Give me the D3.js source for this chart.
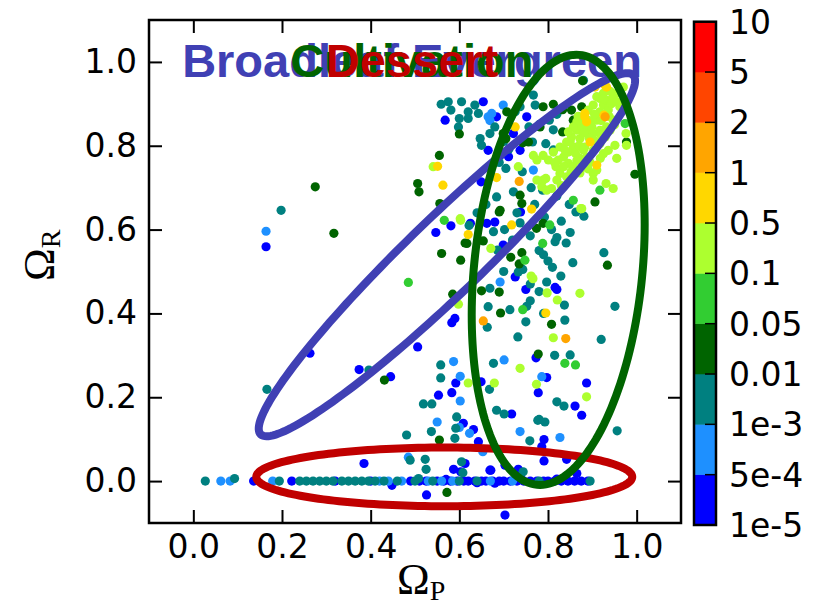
<!DOCTYPE html>
<html><head><meta charset="utf-8">
<script src="https://cdn.jsdelivr.net/npm/d3@7"></script>
<style>body{margin:0;background:#fff}svg{display:block}</style>
</head><body>
<svg id="chart" width="821" height="607"></svg>
<script>
// ---------- data ----------
const xTicks = [0.0, 0.2, 0.4, 0.6, 0.8, 1.0];
const yTicks = [0.0, 0.2, 0.4, 0.6, 0.8, 1.0];
const binLabels = ["1e-5","5e-4","1e-3","0.01","0.05","0.1","0.5","1","2","5","10"];
const binColors = ["#0000ff","#1e90ff","#008080","#006400","#32cd32","#adff2f","#ffd700","#ffa500","#ff4500","#ff0000"];

const ptsBlue = [
 [0.136,0],[0.222,0],[0.32,0],[0.40,0],[0.49,0],[0.51,0],[0.525,0],[0.55,0],[0.565,0],[0.58,0],[0.595,0],[0.61,0],[0.62,0],[0.635,0],[0.65,0],[0.66,0],[0.675,0],[0.69,0],[0.70,0],[0.715,0],[0.73,0],[0.745,0],[0.76,0],[0.775,0],[0.79,0],[0.80,0],[0.815,0],[0.83,0],[0.845,0],[0.86,0],[0.875,0],[0.89,0],
 [0.448,-0.01],[0.64,-0.004],[0.74,0.004],[0.57,0.004],[0.68,-0.005],[0.82,0.005],
 [0.385,0.042],[0.526,-0.033],[0.587,0.028],[0.609,0.138],[0.632,0.123],[0.643,0.094],[0.671,0.026],[0.703,-0.081],[0.791,0.099],[0.786,0.082],[0.791,0.048],[0.842,0.052],[0.733,0.028],[0.865,0.018],[0.703,0.038],[0.718,0.160],[0.861,0.179],[0.876,0.157],[0.613,0.042],[0.603,0.022],[0.669,0.026],
 [0.164,0.559],[0.263,0.305],[0.374,0.266],[0.445,0.249],[0.506,0.320],[0.590,0.388],[0.583,0.378],[0.592,0.234],[0.553,0.205],[0.583,0.211],[0.649,0.237],[0.773,0.294],[0.797,0.247],[0.778,0.211],[0.887,0.234],[0.726,0.487],[0.750,0.457],[0.816,0.462],[0.820,0.457],[0.699,0.563],
 [0.568,0.861],[0.654,0.905],[0.684,0.869],[0.752,0.869],[0.722,0.829],[0.737,0.789],[0.665,0.789],[0.711,0.774],[0.692,0.777],[0.649,0.714],[0.547,0.593],[0.581,0.609],[0.738,0.642],[0.662,0.615],[0.680,0.618],[0.625,0.615]
];
const ptsDodger = [
 [0.062,0],[0.083,0],[0.179,0],[0.42,0],[0.44,0],[0.47,0],[0.53,0],[0.56,0],[0.585,0],[0.67,0],[0.72,0],
 [0.485,0.057],[0.550,0.141],[0.600,0.128],[0.623,0.114],[0.653,0.070],[0.737,0.118],[0.827,0.104],[0.602,0.191],
 [0.164,0.596],[0.665,0.869],[0.673,0.877],[0.699,0.897],[0.669,0.860],[0.767,0.742],[0.692,0.475],[0.587,0.285],[0.602,0.250],[0.701,0.289],[0.786,0.249]
];
const ptsTeal = [
 [0.027,0],[0.194,0],[0.24,0],[0.255,0],[0.27,0],[0.285,0],[0.30,0],[0.315,0],[0.335,0],[0.35,0],[0.365,0],[0.38,0],[0.395,0],[0.41,0],[0.43,0],[0.46,0],[0.50,0],[0.54,0],[0.60,0],[0.64,0],[0.78,0],[0.895,0],[0.093,0.006],
 [0.481,0.110],[0.537,0.118],[0.590,0.102],[0.523,0.052],[0.525,0.028],[0.508,0.006],[0.605,0.046],[0.608,0.020],[0.592,0.126],[0.759,0.096],[0.744,0.022],[0.793,0.141],[0.777,0.145],[0.519,0.184],[0.538,0.184],[0.594,0.153],[0.684,0.169],[0.701,0.160],[0.780,0.147],[0.820,0.189],[0.836,0.179],[0.956,0.120],[0.489,0.050],
 [0.559,0.899],[0.581,0.885],[0.605,0.905],[0.600,0.865],[0.598,0.845],[0.620,0.881],[0.620,0.865],[0.635,0.897],[0.643,0.877],[0.680,0.845],[0.669,0.829],[0.647,0.817],[0.650,0.801],[0.726,0.881],[0.737,0.893],[0.767,0.921],[0.771,0.897],[0.765,0.809],[0.880,0.956],[0.757,0.845],[0.781,0.851],[0.803,0.861],[0.812,0.838],[0.795,0.805],[0.812,0.790],[0.820,0.875],[0.700,0.810],[0.712,0.792],[0.690,0.760],[0.575,0.905],
 [0.705,0.746],[0.684,0.678],[0.788,0.694],[0.198,0.646],[0.677,0.595],[0.737,0.616],[0.686,0.551],[0.733,0.499],[0.743,0.505],[0.816,0.571],[0.820,0.581],[0.841,0.568],[0.856,0.521],[0.850,0.593],[0.863,0.642],[0.881,0.632],[0.926,0.545],[0.951,0.417],[0.920,0.338],[0.669,0.460],[0.797,0.475],[0.829,0.489],[0.837,0.420],[0.665,0.416],[0.714,0.409],[0.752,0.417],[0.663,0.367],[0.838,0.384],[0.732,0.344],[0.558,0.277],[0.558,0.246],[0.668,0.219],[0.677,0.281],[0.850,0.301],[0.396,0.265],[0.166,0.219],
 [0.720,0.575],[0.702,0.600],[0.760,0.585],[0.780,0.550],[0.800,0.525],[0.792,0.630],[0.830,0.620],[0.848,0.660],[0.820,0.680],[0.762,0.700],[0.742,0.738],[0.722,0.690],[0.660,0.660],[0.640,0.640],[0.622,0.610],[0.760,0.470],[0.780,0.452],[0.810,0.510],[0.750,0.380],[0.700,0.500],[0.760,0.430],[0.790,0.540],[0.808,0.600],[0.770,0.660],[0.730,0.640],[0.790,0.400],[0.815,0.300]
];
const ptsDarkGreen = [
 [0.317,0.591],[0.275,0.702],[0.506,0.710],[0.509,0.690],[0.431,0.241],[0.560,0.543],[0.603,0.527],[0.613,0.568],[0.690,0.642],[0.774,0.603],[0.789,0.615],[0.654,0.573],[0.716,0.534],[0.741,0.545],[0.735,0.518],[0.906,0.666],[0.934,0.515],[0.650,0.454],[0.690,0.451],[0.693,0.401],[0.808,0.374],[0.585,0.446],[0.778,0.303],[0.555,0.098],[0.572,-0.027],[0.996,0.732],[0.977,0.809],[0.555,0.777],[0.556,0.662],[0.737,0.682],[0.741,0.662],[0.692,0.646],[0.617,0.567],[0.600,0.828],[0.707,0.881],[0.789,0.893],[0.812,0.899],[0.833,0.886],[0.743,0.807],[0.756,0.809],[0.833,0.833],[0.878,0.955],[0.853,0.885],[0.857,0.861],[0.876,0.893],[0.782,0.845],[0.699,0.829],[0.705,0.817]
];
const ptsLimeGreen = [
 [0.485,0.474],[0.566,0.622],[0.788,0.567],[0.748,0.527],[0.743,0.409],[0.838,0.281],[0.862,0.277],[0.917,0.694],[0.857,0.670],[0.974,0.853],[0.804,0.611]
];
const ptsGreenYellow = [
 [0.842,0.809],[0.853,0.821],[0.865,0.837],[0.876,0.845],[0.887,0.837],[0.899,0.845],[0.910,0.861],[0.917,0.881],[0.925,0.897],[0.932,0.909],[0.947,0.917],[0.955,0.925],[0.962,0.932],[0.917,0.913],[0.902,0.897],[0.891,0.885],[0.872,0.817],[0.883,0.797],[0.857,0.797],[0.846,0.785],[0.835,0.773],[0.823,0.766],[0.801,0.766],[0.789,0.777],[0.775,0.766],[0.846,0.758],[0.857,0.750],[0.872,0.770],[0.887,0.773],[0.902,0.789],[0.917,0.805],[0.929,0.821],[0.940,0.837],[0.947,0.861],[0.932,0.845],[0.902,0.829],[0.876,0.865],[0.865,0.857],[0.857,0.845],[0.846,0.833],[0.910,0.742],[0.902,0.734],[0.936,0.789],[0.955,0.770],[0.976,0.829],[0.977,0.801],[0.947,0.698],[0.931,0.710],[0.876,0.650],[0.818,0.750],[0.827,0.734],[0.795,0.722],[0.786,0.702],[0.789,0.718],[0.820,0.718],[0.733,0.750],[0.902,0.718],[0.925,0.781],[0.951,0.801],[0.962,0.893],[0.970,0.940],[0.925,0.925],[0.910,0.917],[0.936,0.885],[0.917,0.837],[0.827,0.797],[0.812,0.785],[0.842,0.726],[0.808,0.698],[0.797,0.694],[0.775,0.718],[0.767,0.777],
 [0.862,0.782],[0.870,0.800],[0.893,0.818],[0.905,0.812],[0.880,0.830],[0.893,0.860],[0.905,0.875],[0.920,0.860],[0.938,0.870],[0.943,0.900],[0.925,0.912],[0.940,0.930],[0.955,0.905],[0.868,0.870],[0.850,0.810],[0.838,0.790],[0.815,0.760],[0.835,0.750],[0.865,0.765],[0.895,0.760],[0.918,0.770],[0.890,0.745],[0.872,0.735],[0.852,0.738],[0.830,0.705],[0.880,0.790],[0.920,0.825],[0.950,0.850],
 [0.603,0.622],[0.671,0.555],[0.762,0.489],[0.766,0.483],[0.798,0.449],[0.872,0.448],[0.821,0.432],[0.812,0.342],[0.598,0.422],[0.620,0.234],[0.679,0.234],[0.737,0.269],[0.774,0.231],[0.887,0.201],[0.874,0.650],[0.541,0.750],[0.602,0.626]
];
const ptsGold = [
 [0.883,0.869],[0.887,0.857],[0.926,0.873],[0.932,0.940],[0.906,0.940],[0.895,0.809],[0.910,0.754],[0.551,0.751],[0.563,0.706],[0.684,0.724],[0.763,0.649],[0.718,0.611],[0.620,0.588],[0.726,0.845],[0.795,0.401],[0.929,0.944],[0.883,0.877]
];
const ptsOrange = [
 [0.735,0.715],[0.654,0.382],[0.840,0.340],[0.929,0.869]
];
const pointSeries = [ptsBlue, ptsDodger, ptsTeal, ptsDarkGreen, ptsLimeGreen, ptsGreenYellow, ptsGold, ptsOrange];

const regionNames = ["Broadleaf Evergreen", "Cultivation", "Dessert"];
const regionColors = ["#4040b4", "#006400", "#c00000"];
// ellipses in data units: [cx, cy, semi-axis a, semi-axis b, angle(deg)]
const regionEllipses = [
 [0.572, 0.540, 0.600, 0.088, 45.6],
 [0.823, 0.504, 0.515, 0.190, 84.7],
 [0.566, 0.010, 0.424, 0.070, 0]
];

// ---------- drawing ----------
const svg = d3.select("#chart");
const L = 149, R = 681, T = 20, B = 523;
const x = d3.scaleLinear().domain([-0.1, 1.1]).range([L, R]);
const y = d3.scaleLinear().domain([-0.1, 1.1]).range([B, T]);
const tickFont = "'DejaVu Sans', 'Bitstream Vera Sans', sans-serif";

// points
const allPts = [];
pointSeries.forEach((arr, i) => arr.forEach(p => allPts.push({x: p[0], y: p[1], c: binColors[i]})));
svg.append("g").selectAll("circle").data(allPts).join("circle")
  .attr("cx", d => x(d.x)).attr("cy", d => y(d.y)).attr("r", 4.6)
  .attr("fill", d => d.c);

// region labels
const lab = svg.append("g");
regionNames.forEach((n, i) => {
  lab.append("text").attr("x", x(0.5) - 3).attr("y", y(1.0) + 15)
    .attr("text-anchor", "middle")
    .attr("font-family", "'Liberation Sans', Arial, sans-serif")
    .attr("font-weight", "bold").attr("font-size", 47)
    .attr("fill", regionColors[i]).text(n);
});

// ellipses
const eLine = d3.line().curve(d3.curveLinearClosed);
[2, 0, 1].forEach(i => {
  const [cx, cy, a, b, ang] = regionEllipses[i];
  const th = ang * Math.PI / 180;
  const pts = d3.range(0, 360, 2).map(t => {
    const r = t * Math.PI / 180;
    const ex = a * Math.cos(r), ey = b * Math.sin(r);
    return [x(cx + ex * Math.cos(th) - ey * Math.sin(th)), y(cy + ex * Math.sin(th) + ey * Math.cos(th))];
  });
  svg.append("path").attr("d", eLine(pts)).attr("fill", "none")
    .attr("stroke", regionColors[i]).attr("stroke-width", 8);
});

// axes
function styleAxis(g) {
  g.select(".domain").remove();
  g.selectAll(".tick line").attr("stroke", "#000").attr("stroke-width", 2);
  g.selectAll(".tick text").attr("font-family", tickFont).attr("font-size", 33).attr("fill", "#000");
}
svg.append("g").attr("transform", `translate(0,${B})`)
  .call(d3.axisBottom(x).tickValues(xTicks).tickFormat(d3.format(".1f")).tickSize(-13).tickPadding(12)).call(styleAxis);
svg.append("g").attr("transform", `translate(0,${T})`)
  .call(d3.axisTop(x).tickValues(xTicks).tickFormat("").tickSize(-13)).call(styleAxis);
svg.append("g").attr("transform", `translate(${L},0)`)
  .call(d3.axisLeft(y).tickValues(yTicks).tickFormat(d3.format(".1f")).tickSize(-13).tickPadding(12)).call(styleAxis);
svg.append("g").attr("transform", `translate(${R},0)`)
  .call(d3.axisRight(y).tickValues(yTicks).tickFormat("").tickSize(-13)).call(styleAxis);
svg.append("rect").attr("x", L).attr("y", T).attr("width", R - L).attr("height", B - T)
  .attr("fill", "none").attr("stroke", "#000").attr("stroke-width", 2.5);

// axis titles
const serif = "'Liberation Serif', 'DejaVu Serif', serif";
const xt = svg.append("text").attr("x", 397).attr("y", 594).attr("font-family", serif).attr("fill", "#000");
xt.append("tspan").attr("font-size", 44).text("Ω");
xt.append("tspan").attr("font-size", 28).attr("dy", 6).text("P");
const yt = svg.append("text").attr("transform", "translate(54,281) rotate(-90)").attr("font-family", serif).attr("fill", "#000");
yt.append("tspan").attr("font-size", 44).text("Ω");
yt.append("tspan").attr("font-size", 28).attr("dy", 6).text("R");

// colorbar
const cbX = 694, cbW = 22;
const cy = d3.scaleLinear().domain([0, binLabels.length - 1]).range([525, 21.7]);
const cb = svg.append("g");
binColors.forEach((c, i) => {
  cb.append("rect").attr("x", cbX).attr("y", cy(i + 1)).attr("width", cbW)
    .attr("height", cy(i) - cy(i + 1)).attr("fill", c).attr("stroke", c).attr("stroke-width", 0.5);
});
d3.range(1, binLabels.length - 1).forEach(i => {
  cb.append("line").attr("x1", cbX + cbW - 11).attr("x2", cbX + cbW).attr("y1", cy(i)).attr("y2", cy(i))
    .attr("stroke", "#000").attr("stroke-width", 1.5);
});
cb.append("rect").attr("x", cbX).attr("y", cy(binLabels.length - 1)).attr("width", cbW)
  .attr("height", cy(0) - cy(binLabels.length - 1)).attr("fill", "none").attr("stroke", "#000").attr("stroke-width", 2.5);
binLabels.forEach((t, i) => {
  cb.append("text").attr("x", 729).attr("y", cy(i)).attr("dy", "0.36em")
    .attr("font-family", tickFont).attr("font-size", 33).attr("fill", "#000").text(t);
});
</script>
</body></html>
